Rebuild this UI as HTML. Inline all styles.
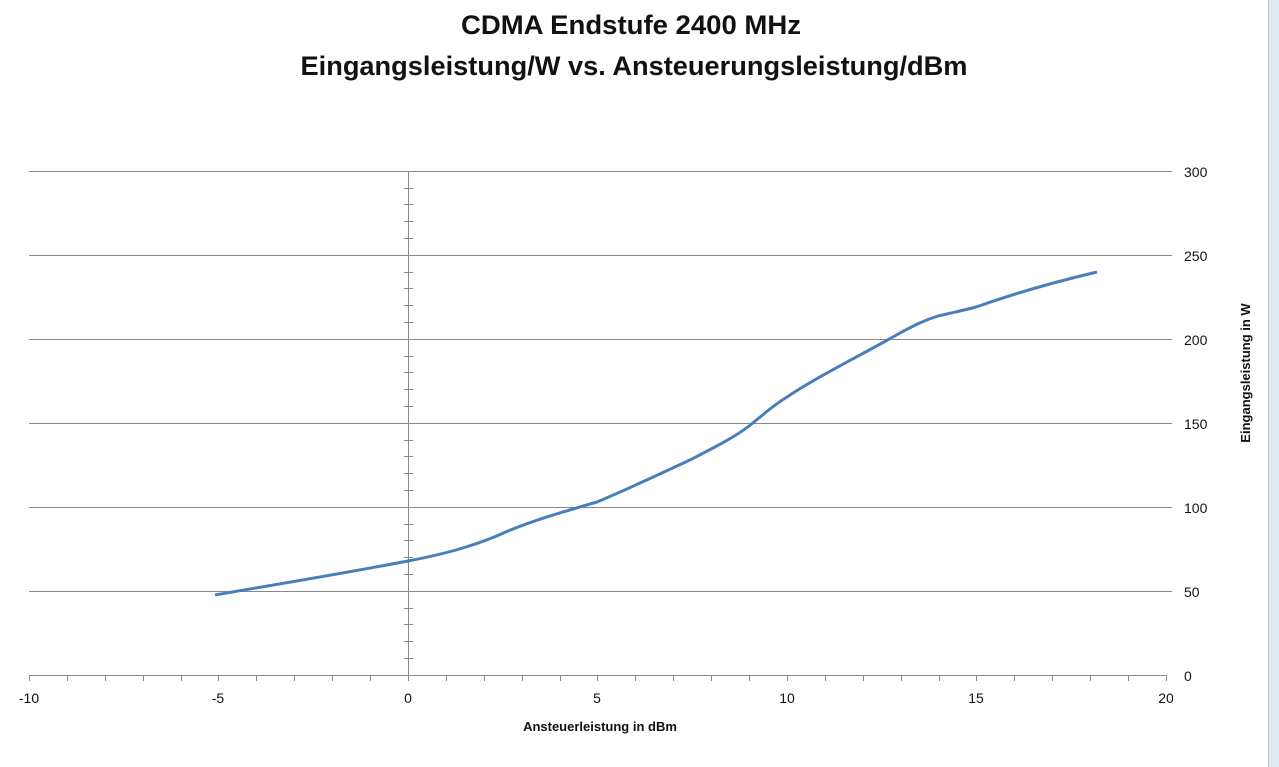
<!DOCTYPE html>
<html><head><style>body{margin:0;background:#fff}svg{display:block}</style></head><body>
<svg width="1279" height="767" xmlns="http://www.w3.org/2000/svg" font-family="Liberation Sans, sans-serif">
<rect width="1279" height="767" fill="#fff"/>
<text x="631" y="34" text-anchor="middle" font-size="27" font-weight="bold" fill="#111" textLength="340" lengthAdjust="spacingAndGlyphs">CDMA Endstufe 2400 MHz</text>
<text x="634" y="75" text-anchor="middle" font-size="27" font-weight="bold" fill="#111" textLength="667" lengthAdjust="spacingAndGlyphs">Eingangsleistung/W vs. Ansteuerungsleistung/dBm</text>
<g stroke="#888" stroke-width="1">
<line x1="29" y1="171.5" x2="1172" y2="171.5"/>
<line x1="29" y1="255.5" x2="1172" y2="255.5"/>
<line x1="29" y1="339.5" x2="1172" y2="339.5"/>
<line x1="29" y1="423.5" x2="1172" y2="423.5"/>
<line x1="29" y1="507.5" x2="1172" y2="507.5"/>
<line x1="29" y1="591.5" x2="1172" y2="591.5"/>
<line x1="29" y1="675.5" x2="1166" y2="675.5"/>
<line x1="408.5" y1="171" x2="408.5" y2="681"/>
<path d="M29.5,675v6M67.5,675v6M105.5,675v6M143.5,675v6M181.5,675v6M218.5,675v6M256.5,675v6M294.5,675v6M332.5,675v6M370.5,675v6M446.5,675v6M484.5,675v6M522.5,675v6M560.5,675v6M597.5,675v6M635.5,675v6M673.5,675v6M711.5,675v6M749.5,675v6M787.5,675v6M825.5,675v6M863.5,675v6M901.5,675v6M939.5,675v6M976.5,675v6M1014.5,675v6M1052.5,675v6M1090.5,675v6M1128.5,675v6M1166.5,675v6"/>
<path d="M404,658.5h9M404,641.5h9M404,624.5h9M404,608.5h9M404,591.5h9M404,574.5h9M404,557.5h9M404,540.5h9M404,524.5h9M404,507.5h9M404,490.5h9M404,473.5h9M404,456.5h9M404,440.5h9M404,423.5h9M404,406.5h9M404,389.5h9M404,372.5h9M404,356.5h9M404,339.5h9M404,322.5h9M404,305.5h9M404,288.5h9M404,272.5h9M404,255.5h9M404,238.5h9M404,221.5h9M404,204.5h9M404,188.5h9M404,171.5h9"/>
</g>
<g font-size="14" fill="#111">
<text x="29" y="703" text-anchor="middle">-10</text>
<text x="218" y="703" text-anchor="middle">-5</text>
<text x="408" y="703" text-anchor="middle">0</text>
<text x="597" y="703" text-anchor="middle">5</text>
<text x="787" y="703" text-anchor="middle">10</text>
<text x="976" y="703" text-anchor="middle">15</text>
<text x="1166" y="703" text-anchor="middle">20</text>
<text x="1184" y="177">300</text>
<text x="1184" y="261">250</text>
<text x="1184" y="345">200</text>
<text x="1184" y="429">150</text>
<text x="1184" y="513">100</text>
<text x="1184" y="597">50</text>
<text x="1184" y="681">0</text>
</g>
<text x="600" y="731" text-anchor="middle" font-size="13" font-weight="bold" fill="#111">Ansteuerleistung  in dBm</text>
<text transform="translate(1250,373) rotate(-90)" text-anchor="middle" font-size="13" font-weight="bold" fill="#111">Eingangsleistung  in W</text>
<path d="M215,595 C255,588 340,574 408,561 C450,553 480,544 508,531 C540,518 570,510 597,502 C630,488 660,474 692,459 C715,447 735,437 749,426 C762,416 772,406 787,397 C820,375 860,356 900,333 C915,325 925,320 938,316 C955,312 965,310 976,307 C1010,295 1050,283 1097,272" fill="none" stroke="#4a7ebb" stroke-width="3" stroke-linejoin="round"/>
<rect x="1268" y="0" width="11" height="767" fill="#e4eaf1"/>
<line x1="1268.5" y1="0" x2="1268.5" y2="767" stroke="#b9c6d6"/>
</svg>
</body></html>
